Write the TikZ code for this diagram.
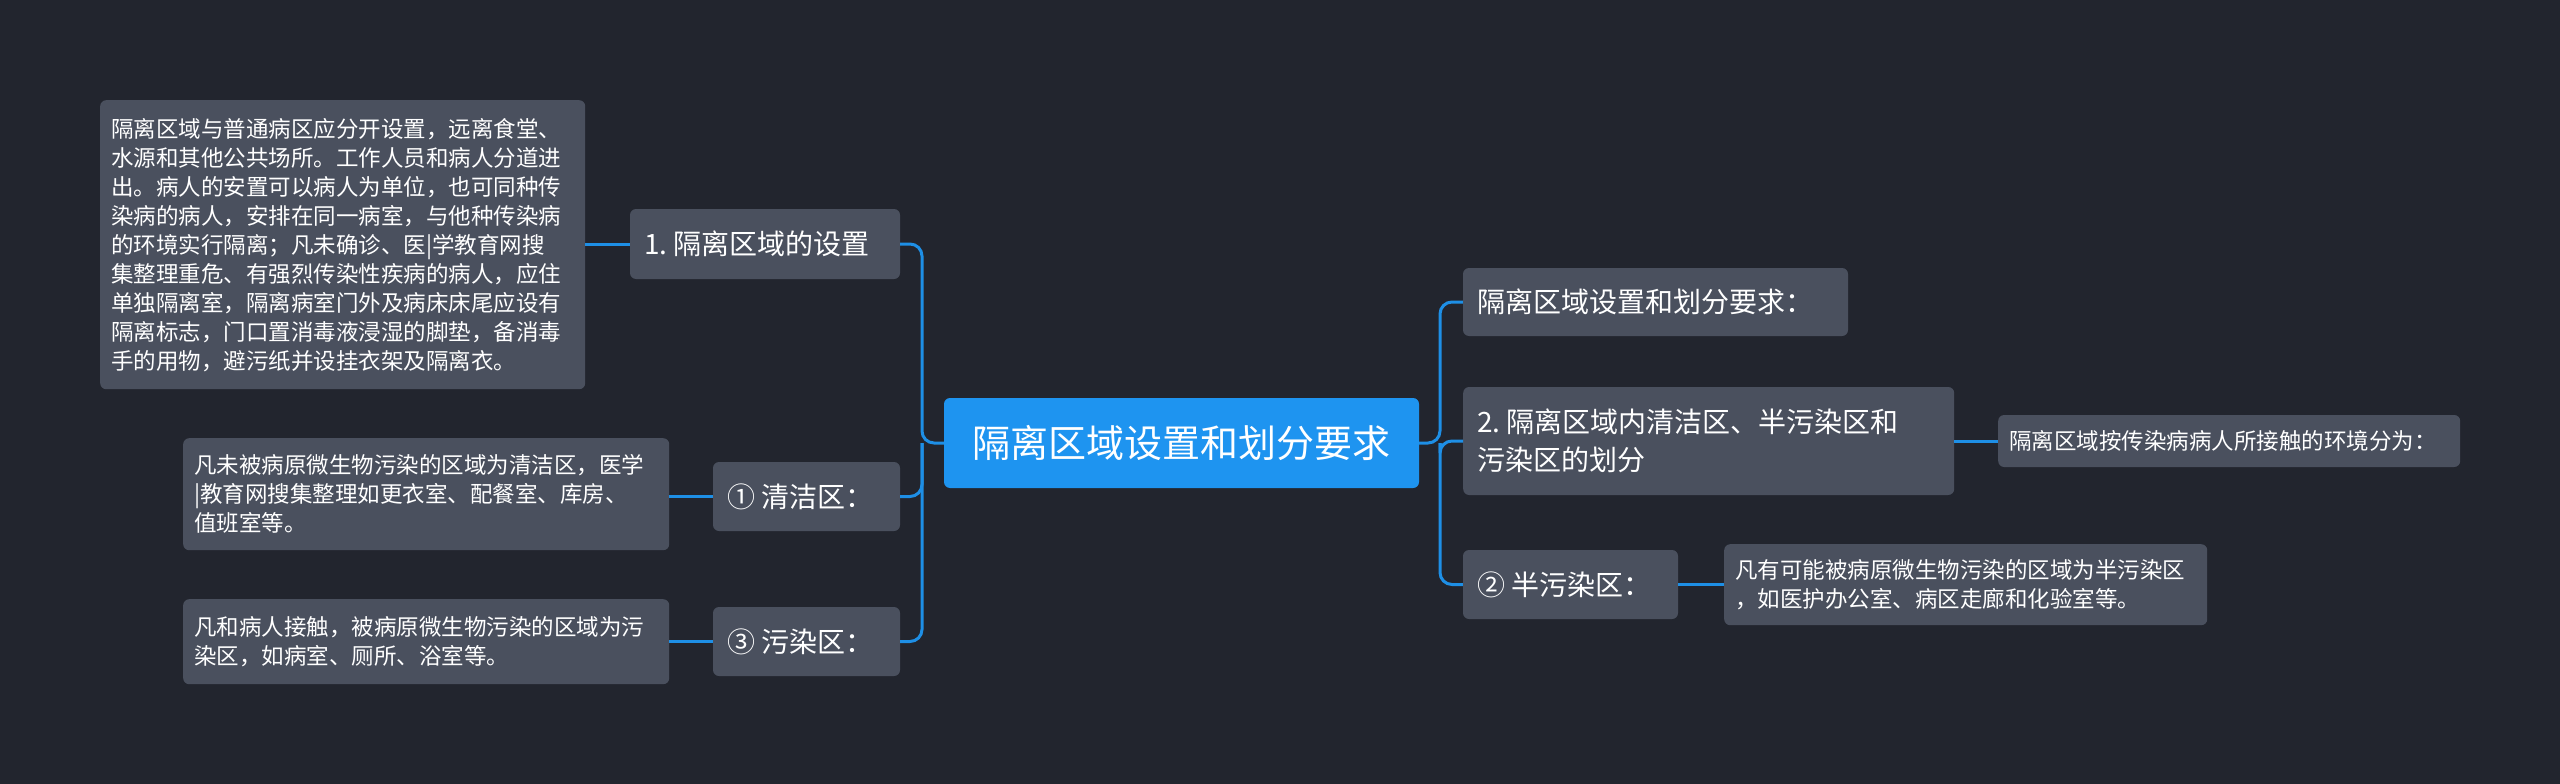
\documentclass[tikz,border=0pt]{standalone}
\usepackage{fontspec}
\setmainfont{Noto Sans CJK SC}
\newcommand{\nsp}{\hspace{0.22em}}
\begin{document}
\begin{tikzpicture}[x=1pt,y=-1pt,
 box/.style={fill=boxc,rounded corners=6pt,text=white,inner sep=0pt},
 small/.style={box,font=\fontsize{22.5}{29}\selectfont,align=left,anchor=north west,inner xsep=11pt,inner ysep=0pt},
 mid/.style={box,font=\fontsize{28}{38}\selectfont,align=left,inner xsep=14pt},
 ln/.style={draw=linec,line width=3pt,rounded corners=12pt}]
\definecolor{bg}{HTML}{22252E}
\definecolor{boxc}{HTML}{4A505E}
\definecolor{linec}{HTML}{1E8FE6}
\definecolor{rootc}{HTML}{1E94F0}
\fill[bg] (0,0) rectangle (2560,784);
\useasboundingbox (0,0) rectangle (2560,784);
% root
\node[box,fill=rootc,font=\fontsize{38}{44}\selectfont,minimum width=475pt,minimum height=90pt] (root) at (1181.5,443) {隔离区域设置和划分要求};
% left
\node[mid,text width=242pt,minimum height=70pt] (n1) at (765,244) {1.\nsp{}隔离区域的设置};
\node[small,text width=463pt,minimum height=289pt] (t1) at (100,100) {隔离区域与普通病区应分开设置，远离食堂、\\水源和其他公共场所。工作人员和病人分道进\\出。病人的安置可以病人为单位，也可同种传\\染病的病人，安排在同一病室，与他种传染病\\的环境实行隔离；凡未确诊、医|学教育网搜\\集整理重危、有强烈传染性疾病的病人，应住\\单独隔离室，隔离病室门外及病床床尾应设有\\隔离标志，门口置消毒液浸湿的脚垫，备消毒\\手的用物，避污纸并设挂衣架及隔离衣。};
\node[mid,text width=159pt,minimum height=69pt] (n2) at (806.5,496.5) {①\nsp{}清洁区：};
\node[small,text width=464pt,minimum height=112pt] (t2) at (183,438) {凡未被病原微生物污染的区域为清洁区，医学\\|教育网搜集整理如更衣室、配餐室、库房、\\值班室等。};
\node[mid,text width=159pt,minimum height=69pt] (n3) at (806.5,641.5) {③\nsp{}污染区：};
\node[small,text width=464pt,minimum height=85pt] (t3) at (183,599) {凡和病人接触，被病原微生物污染的区域为污\\染区，如病室、厕所、浴室等。};
% right
\node[mid,text width=357pt,minimum height=68pt] (r1) at (1655.5,302) {隔离区域设置和划分要求：};
\node[mid,text width=463pt,minimum height=108pt,anchor=west] (r2) at (1463,441) {2.\nsp{}隔离区域内清洁区、半污染区和\\污染区的划分};
\node[small,text width=440pt,minimum height=52pt,anchor=west] (t4) at (1998,441) {隔离区域按传染病病人所接触的环境分为：};
\node[mid,text width=187pt,minimum height=69pt] (r3) at (1570.5,584.5) {②\nsp{}半污染区：};
\node[small,text width=461pt,minimum height=81pt] (t5) at (1724,544) {凡有可能被病原微生物污染的区域为半污染区\\，如医护办公室、病区走廊和化验室等。};
% connectors
\coordinate (jl) at (922,443);
\coordinate (jr) at (1440,443);
\draw[ln] (root.west) -- (jl) |- (n1.east);
\draw[ln] (jl) |- (n2.east);
\draw[ln] (jl) |- (n3.east);
\draw[ln] (root.east) -- (jr) |- (r1.west);
\draw[ln] (jr) |- (r2.west);
\draw[ln] (jr) |- (r3.west);
\draw[ln] (n1.west) -- (t1.east|-n1.west);
\draw[ln] (n2.west) -- (t2.east|-n2.west);
\draw[ln] (n3.west) -- (t3.east|-n3.west);
\draw[ln] (r2.east) -- (t4.west);
\draw[ln] (r3.east) -- (t5.west|-r3.east);
\end{tikzpicture}
\end{document}
